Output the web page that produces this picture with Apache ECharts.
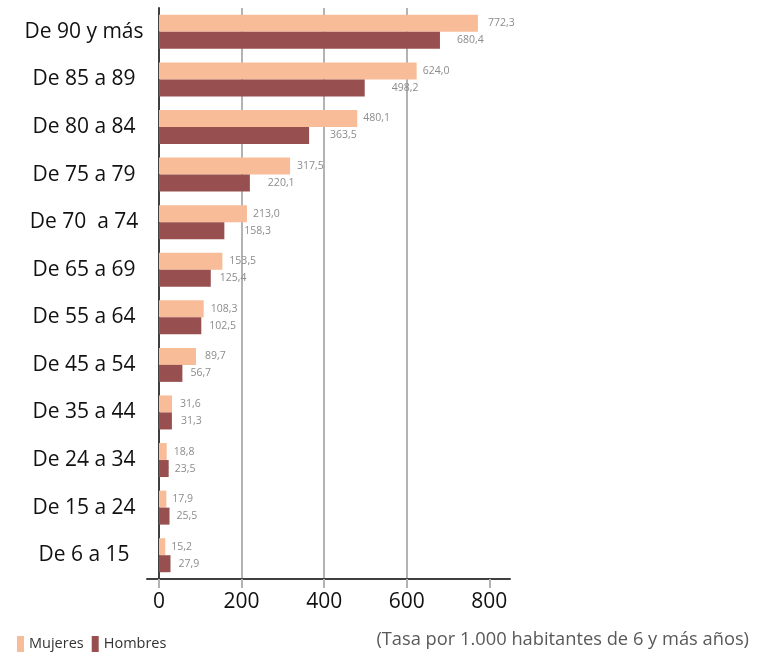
<!DOCTYPE html>
<html>
<head>
<meta charset="utf-8">
<style>
  html, body { margin: 0; padding: 0; background: #ffffff; }
  #chart { width: 771px; height: 652px; }
</style>
<script src="https://cdn.jsdelivr.net/npm/echarts@6/dist/echarts.min.js"></script>
</head>
<body>
<div id="chart"></div>
<script>
// Age groups, top to bottom
const categories = [
  'De 90 y más', 'De 85 a 89', 'De 80 a 84', 'De 75 a 79', 'De 70  a 74',
  'De 65 a 69', 'De 55 a 64', 'De 45 a 54', 'De 35 a 44', 'De 24 a 34',
  'De 15 a 24', 'De 6 a 15'
];
// Rate per 1,000 inhabitants aged 6 and over
const mujeres = [772.3, 624.0, 480.1, 317.5, 213.0, 153.5, 108.3, 89.7, 31.6, 18.8, 17.9, 15.2];
const hombres = [680.4, 498.2, 363.5, 220.1, 158.3, 125.4, 102.5, 56.7, 31.3, 23.5, 25.5, 27.9];
const xTicks = [0, 200, 400, 600, 800];

// Label spacing (pixels from bar end)
const mujeresLabelGap = [10, 6, 6, 7, 6, 7, 7, 9, 8, 7, 6, 6];
const hombresLabelGap = [17, 27, 21, 18, 20, 9, 8, 8, 9, 6, 7, 8];

const fmt = v => v.toFixed(1).replace('.', ',');
const FONT = '"Open Sans", "Noto Sans", sans-serif';

const chart = echarts.init(document.getElementById('chart'), null, { renderer: 'canvas' });

const valueLabel = {
  show: true,
  position: 'right',
  fontFamily: FONT,
  fontSize: 10.5,
  color: '#8c8c8c',
  formatter: p => fmt(p.value)
};

chart.setOption({
  animation: false,
  backgroundColor: '#ffffff',
  textStyle: { fontFamily: FONT },
  title: {
    text: '(Tasa por 1.000 habitantes de 6 y más años)',
    right: 22,
    top: 631,
    padding: 0,
    textStyle: { fontFamily: FONT, fontSize: 18.3, fontWeight: 'normal', color: '#595959' }
  },
  legend: {
    left: 17,
    top: 636,
    padding: 0,
    icon: 'rect',
    itemWidth: 7,
    itemHeight: 16,
    itemGap: 8,
    textStyle: { fontFamily: FONT, fontSize: 14.5, color: '#333333' },
    data: ['Mujeres', 'Hombres']
  },
  grid: {
    left: 147,
    right: 261,
    top: 8,
    bottom: 73,
    containLabel: false
  },
  xAxis: {
    type: 'value',
    min: -29,
    max: 850,
    axisLine: { show: true, lineStyle: { color: '#404040', width: 2 } },
    axisTick: {
      show: true,
      customValues: xTicks,
      length: 9,
      lineStyle: { color: '#b3b3b3', width: 2 }
    },
    axisLabel: {
      customValues: xTicks,
      margin: 13,
      fontFamily: FONT,
      fontSize: 21,
      color: '#111111'
    },
    splitLine: {
      show: true,
      showMinLine: false,
      showMaxLine: false,
      lineStyle: { color: '#b3b3b3', width: 2 }
    }
  },
  yAxis: {
    type: 'category',
    inverse: true,
    data: categories,
    axisLine: { show: true, onZero: true, lineStyle: { color: '#404040', width: 2 } },
    axisTick: { show: false },
    axisLabel: {
      margin: 63,
      align: 'center',
      fontFamily: FONT,
      fontSize: 21,
      color: '#111111'
    },
    splitLine: { show: false }
  },
  series: [
    {
      name: 'Mujeres',
      type: 'bar',
      data: mujeres.map((v, i) => ({ value: v, label: { distance: mujeresLabelGap[i] } })),
      barWidth: 17,
      barGap: '0%',
      itemStyle: { color: '#F8BD98' },
      label: valueLabel
    },
    {
      name: 'Hombres',
      type: 'bar',
      data: hombres.map((v, i) => ({ value: v, label: { distance: hombresLabelGap[i] } })),
      barWidth: 17,
      barGap: '0%',
      itemStyle: { color: '#97504F' },
      label: valueLabel
    }
  ]
});
</script>
</body>
</html>
